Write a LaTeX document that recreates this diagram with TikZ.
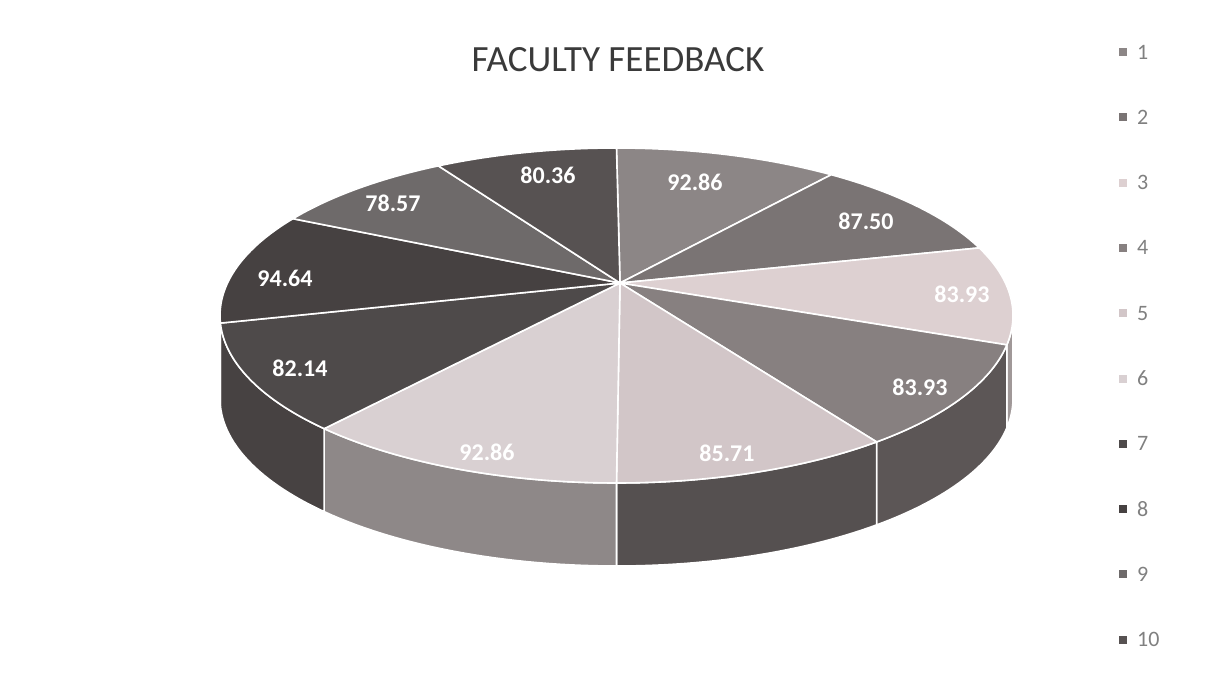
\documentclass[tikz,border=0pt]{standalone}
\usepackage{fontspec}
\setmainfont{Carlito}
\definecolor{tA}{HTML}{8C8686}
\definecolor{tB}{HTML}{7A7474}
\definecolor{tC}{HTML}{DDD0D1}
\definecolor{tD}{HTML}{878080}
\definecolor{tE}{HTML}{D2C6C8}
\definecolor{tF}{HTML}{D9D0D2}
\definecolor{tG}{HTML}{4E4A4A}
\definecolor{tH}{HTML}{464141}
\definecolor{tI}{HTML}{6E6A6A}
\definecolor{tJ}{HTML}{575252}
\definecolor{sC}{HTML}{A09898}
\definecolor{sD}{HTML}{5C5656}
\definecolor{sE}{HTML}{555050}
\definecolor{sF}{HTML}{8E8888}
\definecolor{sG}{HTML}{474242}
\definecolor{titlecol}{HTML}{3A3A3A}
\definecolor{legcol}{HTML}{808080}
\begin{document}
\begin{tikzpicture}[x=1pt,y=-1pt,
  face/.style={draw=white,line width=1.6pt,line join=round},
  vlabel/.style={text=white,font=\fontsize{24}{24}\selectfont\bfseries},
  legtext/.style={text=legcol,font=\fontsize{22}{22}\selectfont,anchor=west,inner sep=0pt},
  legbox/.style={minimum size=8pt,inner sep=0pt}]
\def\cx{616.5}\def\cy{315.5}\def\ra{396.5}\def\rb{167.5}\def\hh{83}
\useasboundingbox (0,0) rectangle (1220,688);
\fill[white] (0,0) rectangle (1220,688);
\coordinate (O) at (620,283);
\newcommand\pietop[3]{\filldraw[face,fill=#3] (O) -- plot[domain=#1:#2,samples=40] ({\cx+\ra*cos(\x)},{\cy-\rb*sin(\x)}) -- cycle;}
\newcommand\pieside[3]{\filldraw[face,fill=#3] plot[domain=#1:#2,samples=30] ({\cx+\ra*cos(\x)},{\cy-\rb*sin(\x)}) -- plot[domain=#2:#1,samples=30] ({\cx+\ra*cos(\x)},{\cy+\hh-\rb*sin(\x)}) -- cycle;}
% sides
\pieside{-10.1}{0}{sC}
\pieside{-49}{-10.1}{sD}
\pieside{-90}{-49}{sE}
\pieside{-137.5}{-90}{sF}
\pieside{-177.4}{-137.5}{sG}
\pieside{-180}{-177.4}{sG}
% tops
\pietop{57.2}{90}{tA}
\pietop{23.8}{57.2}{tB}
\pietop{-10.1}{23.8}{tC}
\pietop{-49}{-10.1}{tD}
\pietop{-90}{-49}{tE}
\pietop{-137.5}{-90}{tF}
\pietop{-177.4}{-137.5}{tG}
\pietop{-215.3}{-177.4}{tH}
\pietop{-243.3}{-215.3}{tI}
\pietop{-270}{-243.3}{tJ}
% labels
\node[vlabel] (v1) at (695,182) {92.86};
\node[vlabel] (v2) at (866,221) {87.50};
\node[vlabel] (v3) at (962,294) {83.93};
\node[vlabel] (v4) at (920,387) {83.93};
\node[vlabel] (v5) at (727,453) {85.71};
\node[vlabel] (v6) at (487,452) {92.86};
\node[vlabel] (v7) at (300,368) {82.14};
\node[vlabel] (v8) at (285,278) {94.64};
\node[vlabel] (v9) at (393,203) {78.57};
\node[vlabel] (v10) at (548,175) {80.36};
% title
\node[text=titlecol,font=\fontsize{37}{37}\selectfont] (title) at (618,60) {FACULTY FEEDBACK};
% legend
\foreach \i/\c in {1/tA,2/tB,3/tC,4/tD,5/tE,6/tF,7/tG,8/tH,9/tI,10/tJ}{
  \node[legbox,fill=\c] (lb\i) at (1123,{52+65.3*(\i-1)}) {};
  \node[legtext] (lt\i) at (1137,{52+65.3*(\i-1)}) {\i};
}
\end{tikzpicture}
\end{document}
